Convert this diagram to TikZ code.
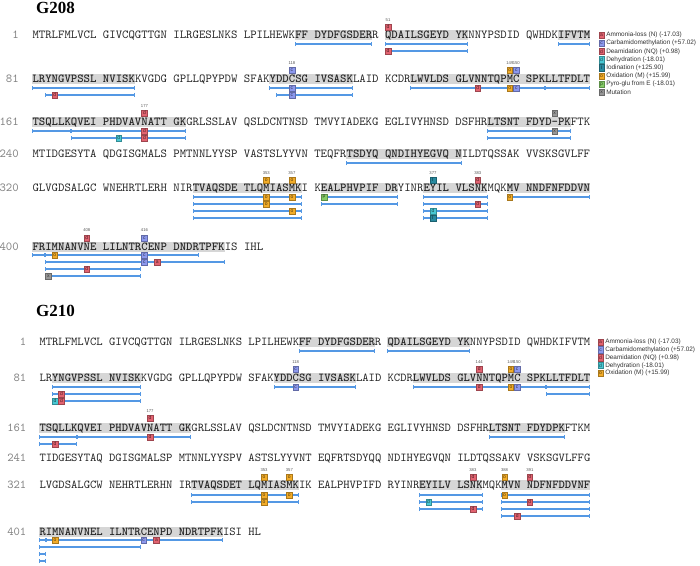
\documentclass[tikz,border=0pt]{standalone}
\usepackage{fontspec}
\setmainfont{Liberation Serif}
\newfontfamily\legfont{Liberation Sans}
\newfontfamily\seqfam{lmmono10-regular.otf}[BoldFont=lmmonolt10-bold.otf]
\usetikzlibrary{arrows.meta,positioning}

\definecolor{pepblue}{RGB}{84,152,228}
\definecolor{hlgray}{RGB}{214,214,214}
\definecolor{modred}{RGB}{226,98,112}
\definecolor{modblue}{RGB}{140,152,238}
\definecolor{modcyan}{RGB}{72,200,212}
\definecolor{modteal}{RGB}{40,138,160}
\definecolor{modorange}{RGB}{242,172,40}
\definecolor{modgreen}{RGB}{132,204,102}
\definecolor{modgray}{RGB}{150,150,150}
\definecolor{numgray}{RGB}{130,130,130}

\tikzset{
    seqtxt/.style={inner sep=0pt, anchor=base west, font=\seqfont, text=black!85},
    rownum/.style={inner sep=0pt, anchor=base east, font=\seqfont, text=numgray},
    pep/.style={draw=pepblue, line width=2.2pt,
        arrows={Bar[width=4.2pt,line width=0.9pt]-Bar[width=4.2pt,line width=0.9pt]}},
    mod/.style={draw=#1!70!black, fill=#1, text=#1!35!black, inner sep=0pt,
        minimum width=5.6pt, minimum height=6.4pt,
        font=\legfont\fontsize{5}{5}\selectfont},
    sitetxt/.style={inner sep=0pt, text=black!65, font=\legfont\fontsize{4.2}{4}\selectfont},
    legtxt/.style={inner sep=0pt, anchor=west, text=black!80, font=\legfont\fontsize{6.4}{7}\selectfont},
    paneltitle/.style={inner sep=0pt, anchor=west, font=\bfseries\fontsize{17}{17}\selectfont}
}

\newcounter{nd}
\newcommand{\seqfont}{\seqfam\fontsize{12.2}{12}\selectfont}
% x of a column of the current panel
\newcommand{\cx}[1]{\xo+(#1)*\pp}
% sequence runs: plain {col}{y}{text}, bold {from}{to}{y}{text}
\newcommand{\seqn}[3]{\stepcounter{nd}\node[seqtxt] (s\arabic{nd}) at ({\cx{#1}},#2+3.6) {#3};}
\newcommand{\seqb}[4]{\fill[hlgray] ({\cx{#1}},#3-5.5) rectangle ({\cx{#2+1}},#3+5);
    \stepcounter{nd}\node[seqtxt,font=\seqfont\bfseries] (s\arabic{nd}) at ({\cx{#1}},#3+3.6) {#4};}
\newcommand{\rowno}[2]{\stepcounter{nd}\node[rownum] (r\arabic{nd}) at (\rx,#1+3.6) {#2};}
% peptide {from}{to}{y}
\newcommand{\pep}[3]{\draw[pep] ({\cx{#1}},#3) -- ({\cx{#2+1}},#3);}
% modification {colour}{col}{y}{letter}
\newcommand{\md}[4]{\stepcounter{nd}\node[mod=#1] (m\arabic{nd}) at ({\cx{#2+0.5}},#3) {#4};}
\newcommand{\site}[3]{\stepcounter{nd}\node[sitetxt] (n\arabic{nd}) at ({\cx{#1+0.5}},#2) {#3};}
\newcommand{\legitem}[5]{\stepcounter{nd}\node[mod=#1] (l\arabic{nd}) at (#2,#3) {#4};
    \node[legtxt, right=1.6pt of l\arabic{nd}] (lt\arabic{nd}) {#5};}

\begin{document}
\begin{tikzpicture}[x=1pt,y=-1pt]
\fill[white] (0,0) rectangle (700,565);
\useasboundingbox (0,0) rectangle (700,565);

%%%%% G208
\def\xo{32.3}\def\pp{6.41}\def\rx{19}
\node[paneltitle] (t208) at (36,8) {G208};

% 1
\rowno{35}{1}
\seqn{0}{35}{MTRLFMLVCL GIVCQGTTGN ILRGESLNKS LPILHEWK}
\seqb{41}{52}{35}{FF DYDFGSDER}
\seqn{53}{35}{R}
\seqb{55}{67}{35}{QDAILSGEYD YK}
\seqn{68}{35}{NNYPSDID QWHDK}
\seqb{82}{86}{35}{IFVTM}
\site{55}{20}{51} \md{modred}{55}{27}{d}
\pep{41}{52}{44} \pep{55}{67}{44} \pep{82}{86}{44}
\pep{55}{67}{51} \md{modred}{55}{51}{d}

% 81
\rowno{79}{81}
\seqb{0}{15}{79}{LRYNGVPSSL NVISK}
\seqn{16}{79}{KVGDG GPLLQPYPDW SFAK}
\seqb{37}{49}{79}{YDDCSG IVSASK}
\seqn{50}{79}{LAID KCDR}
\seqb{59}{86}{79}{LWVLDS GLVNNTQPMC SPKLLTFDLT}
\site{40}{63}{118} \md{modblue}{40}{70}{c}
\site{74}{63}{149} \site{75}{63}{150}
\md{modorange}{74}{70}{o} \md{modblue}{75}{70}{c}
\pep{0}{15}{88}
\pep{37}{49}{88} \md{modblue}{40}{88}{c}
\pep{59}{79}{88} \pep{80}{86}{88}
\md{modred}{69}{88}{d} \md{modorange}{74}{88}{o} \md{modblue}{75}{88}{c}
\pep{2}{15}{95} \md{modred}{3}{95}{d}
\pep{38}{49}{95} \md{modblue}{40}{95}{c}

% 161
\rowno{122}{161}
\seqb{0}{23}{122}{TSQLLKQVEI PHDVAVNATT GK}
\seqn{24}{122}{GRLSSLAV QSLDCNTNSD TMVYIADEKG EGLIVYHNSD DSFHR}
\seqb{71}{83}{122}{LTSNT FDYD-PK}
\seqn{84}{122}{FTK}
\site{17}{106}{177} \md{modred}{17}{113}{d}
\md{modgray}{81}{113}{x}
\pep{0}{5}{131} \pep{6}{23}{131} \md{modred}{17}{131}{d}
\pep{71}{83}{131} \md{modgray}{81}{131}{x}
\pep{6}{23}{138} \md{modcyan}{13}{138}{d} \md{modred}{17}{138}{d}
\pep{71}{83}{138}

% 240
\rowno{154}{240}
\seqn{0}{154}{MTIDGESYTA QDGISGMALS PMTNNLYYSP VASTSLYYVN TEQFR}
\seqb{49}{66}{154}{TSDYQ QNDIHYEGVQ N}
\seqn{67}{154}{ILDTQSSAK VVSKSGVLFF}
\pep{49}{66}{163}

% 320
\rowno{188}{320}
\seqn{0}{188}{GLVGDSALGC WNEHRTLERH NIR}
\seqb{25}{41}{188}{TVAQSDE TLQMIASMK}
\seqn{42}{188}{I K}
\seqb{45}{56}{188}{EALPHVPIF DR}
\seqn{57}{188}{YINR}
\seqb{61}{70}{188}{EYIL VLSNK}
\seqn{71}{188}{MQK}
\seqb{74}{86}{188}{MV NNDFNFDDVN}
\site{36}{173}{353} \md{modorange}{36}{180}{o}
\site{40}{173}{357} \md{modorange}{40}{180}{o}
\site{62}{173}{377} \md{modteal}{62}{180}{I}
\site{69}{173}{383} \md{modred}{69}{180}{d}
\pep{25}{41}{197} \md{modorange}{36}{197}{o} \md{modorange}{40}{197}{o}
\pep{45}{56}{197} \md{modgreen}{45}{197}{p}
\pep{61}{70}{197}
\pep{74}{86}{197} \md{modorange}{74}{197}{o}
\pep{25}{41}{204} \md{modorange}{36}{204}{o}
\pep{45}{56}{204}
\pep{61}{70}{204} \md{modred}{69}{204}{d}
\pep{25}{41}{211} \md{modorange}{40}{211}{o}
\pep{61}{70}{211} \md{modcyan}{62}{211}{d}
\pep{25}{41}{218}
\pep{61}{70}{218} \md{modteal}{62}{218}{I}

% 400
\rowno{247}{400}
\seqb{0}{29}{247}{FRIMNANVNE LILNTRCENP DNDRTPFK}
\seqn{30}{247}{IS IHL}
\site{8}{230}{408} \md{modred}{8}{238}{d}
\site{17}{230}{416} \md{modblue}{17}{238}{c}
\pep{0}{1}{255} \pep{2}{25}{255} \md{modorange}{3}{255}{o} \md{modblue}{17}{255}{c}
\pep{2}{29}{262} \md{modblue}{17}{262}{c} \md{modred}{19}{262}{a}
\pep{2}{16}{269} \md{modred}{8}{269}{d}
\pep{2}{16}{276} \md{modgray}{2}{276}{x}

% legend
\legitem{modred}{601.5}{35}{a}{Ammonia-loss (N) (-17.03)}
\legitem{modblue}{601.5}{43.2}{c}{Carbamidomethylation (+57.02)}
\legitem{modred}{601.5}{51.4}{d}{Deamidation (NQ) (+0.98)}
\legitem{modcyan}{601.5}{59.6}{d}{Dehydration (-18.01)}
\legitem{modteal}{601.5}{67.8}{I}{Iodination (+125.90)}
\legitem{modorange}{601.5}{76}{o}{Oxidation (M) (+15.99)}
\legitem{modgreen}{601.5}{84.2}{p}{Pyro-glu from E (-18.01)}
\legitem{modgray}{601.5}{92.4}{x}{Mutation}

%%%%% G210
\def\xo{39.3}\def\pp{6.33}\def\rx{26.5}
\renewcommand{\seqfont}{\seqfam\fontsize{12.06}{12}\selectfont}
\node[paneltitle] (t210) at (36,310.5) {G210};

% 1
\rowno{342}{1}
\seqn{0}{342}{MTRLFMLVCL GIVCQGTTGN ILRGESLNKS LPILHEWK}
\seqb{41}{52}{342}{FF DYDFGSDER}
\seqn{53}{342}{R}
\seqb{55}{67}{342}{QDAILSGEYD YK}
\seqn{68}{342}{NNYPSDID QWHDKIFVTM}
\pep{41}{52}{351} \pep{55}{67}{351}

% 81
\rowno{378}{81}
\seqn{0}{378}{LR}
\seqb{2}{15}{378}{YNGVPSSL NVISK}
\seqn{16}{378}{KVGDG GPLLQPYPDW SFAK}
\seqb{37}{49}{378}{YDDCSG IVSASK}
\seqn{50}{378}{LAID KCDR}
\seqb{59}{86}{378}{LWVLDS GLVNNTQPMC SPKLLTFDLT}
\site{40}{362}{118} \md{modblue}{40}{369}{c}
\site{69}{362}{144} \md{modred}{69}{369}{d}
\site{74}{362}{149} \site{75}{362}{150}
\md{modorange}{74}{369}{o} \md{modblue}{75}{369}{c}
\pep{2}{15}{387}
\pep{37}{49}{387} \md{modblue}{40}{387}{c}
\pep{59}{79}{387} \pep{80}{86}{387}
\md{modred}{69}{387}{d} \md{modorange}{74}{387}{o} \md{modblue}{75}{387}{c}
\pep{2}{15}{394} \md{modred}{3}{394}{d}
\pep{80}{86}{394}
\pep{2}{15}{401} \md{modcyan}{2}{401}{d} \md{modred}{3}{401}{d}

% 161
\rowno{428}{161}
\seqb{0}{23}{428}{TSQLLKQVEI PHDVAVNATT GK}
\seqn{24}{428}{GRLSSLAV QSLDCNTNSD TMVYIADEKG EGLIVYHNSD DSFHR}
\seqb{71}{82}{428}{LTSNT FDYDPK}
\seqn{83}{428}{FTKM}
\site{17}{411}{177} \md{modred}{17}{418}{d}
\pep{0}{5}{437} \pep{6}{23}{437} \md{modred}{17}{437}{d}
\pep{71}{82}{437}
\pep{0}{5}{444} \md{modred}{2}{444}{d}

% 241
\rowno{458}{241}
\seqn{0}{458}{TIDGESYTAQ DGISGMALSP MTNNLYYSPV ASTSLYYVNT EQFRTSDYQQ NDIHYEGVQN ILDTQSSAKV VSKSGVLFFG}

% 321
\rowno{485}{321}
\seqn{0}{485}{LVGDSALGCW NEHRTLERHN IR}
\seqb{24}{40}{485}{TVAQSDET LQMIASMK}
\seqn{41}{485}{IK EALPHVPIFD RYINR}
\seqb{60}{69}{485}{EYILV LSNK}
\seqn{70}{485}{MQK}
\seqb{73}{86}{485}{MVN NDFNFDDVNF}
\site{35}{470}{353} \md{modorange}{35}{477}{o}
\site{39}{470}{357} \md{modorange}{39}{477}{o}
\site{68}{470}{383} \md{modred}{68}{477}{d}
\site{73}{470}{388} \md{modorange}{73}{477}{o}
\site{77}{470}{391} \md{modred}{77}{477}{d}
\pep{24}{40}{495} \md{modorange}{35}{495}{o} \md{modorange}{39}{495}{o}
\pep{60}{69}{495}
\pep{73}{86}{495} \md{modorange}{73}{495}{o}
\pep{24}{40}{502} \md{modorange}{35}{502}{o}
\pep{60}{69}{502} \md{modcyan}{61}{502}{d}
\pep{73}{86}{502} \md{modred}{77}{502}{d}
\pep{60}{69}{509} \md{modred}{68}{509}{d}
\pep{73}{86}{509}
\pep{73}{86}{516} \md{modred}{75}{516}{d}

% 401
\rowno{532}{401}
\seqb{0}{28}{532}{RIMNANVNEL ILNTRCENPD NDRTPFK}
\seqn{29}{532}{ISI HL}
\pep{0}{0}{540} \pep{1}{28}{540}
\md{modorange}{2}{540}{o} \md{modblue}{16}{540}{c} \md{modred}{18}{540}{a}
\pep{0}{15}{547}
\pep{0}{0}{554}
\pep{0}{0}{561}

% legend
\legitem{modred}{600.5}{342}{a}{Ammonia-loss (N) (-17.03)}
\legitem{modblue}{600.5}{349.8}{c}{Carbamidomethylation (+57.02)}
\legitem{modred}{600.5}{357.6}{d}{Deamidation (NQ) (+0.98)}
\legitem{modcyan}{600.5}{365.4}{d}{Dehydration (-18.01)}
\legitem{modorange}{600.5}{373.2}{o}{Oxidation (M) (+15.99)}

\end{tikzpicture}
\end{document}
